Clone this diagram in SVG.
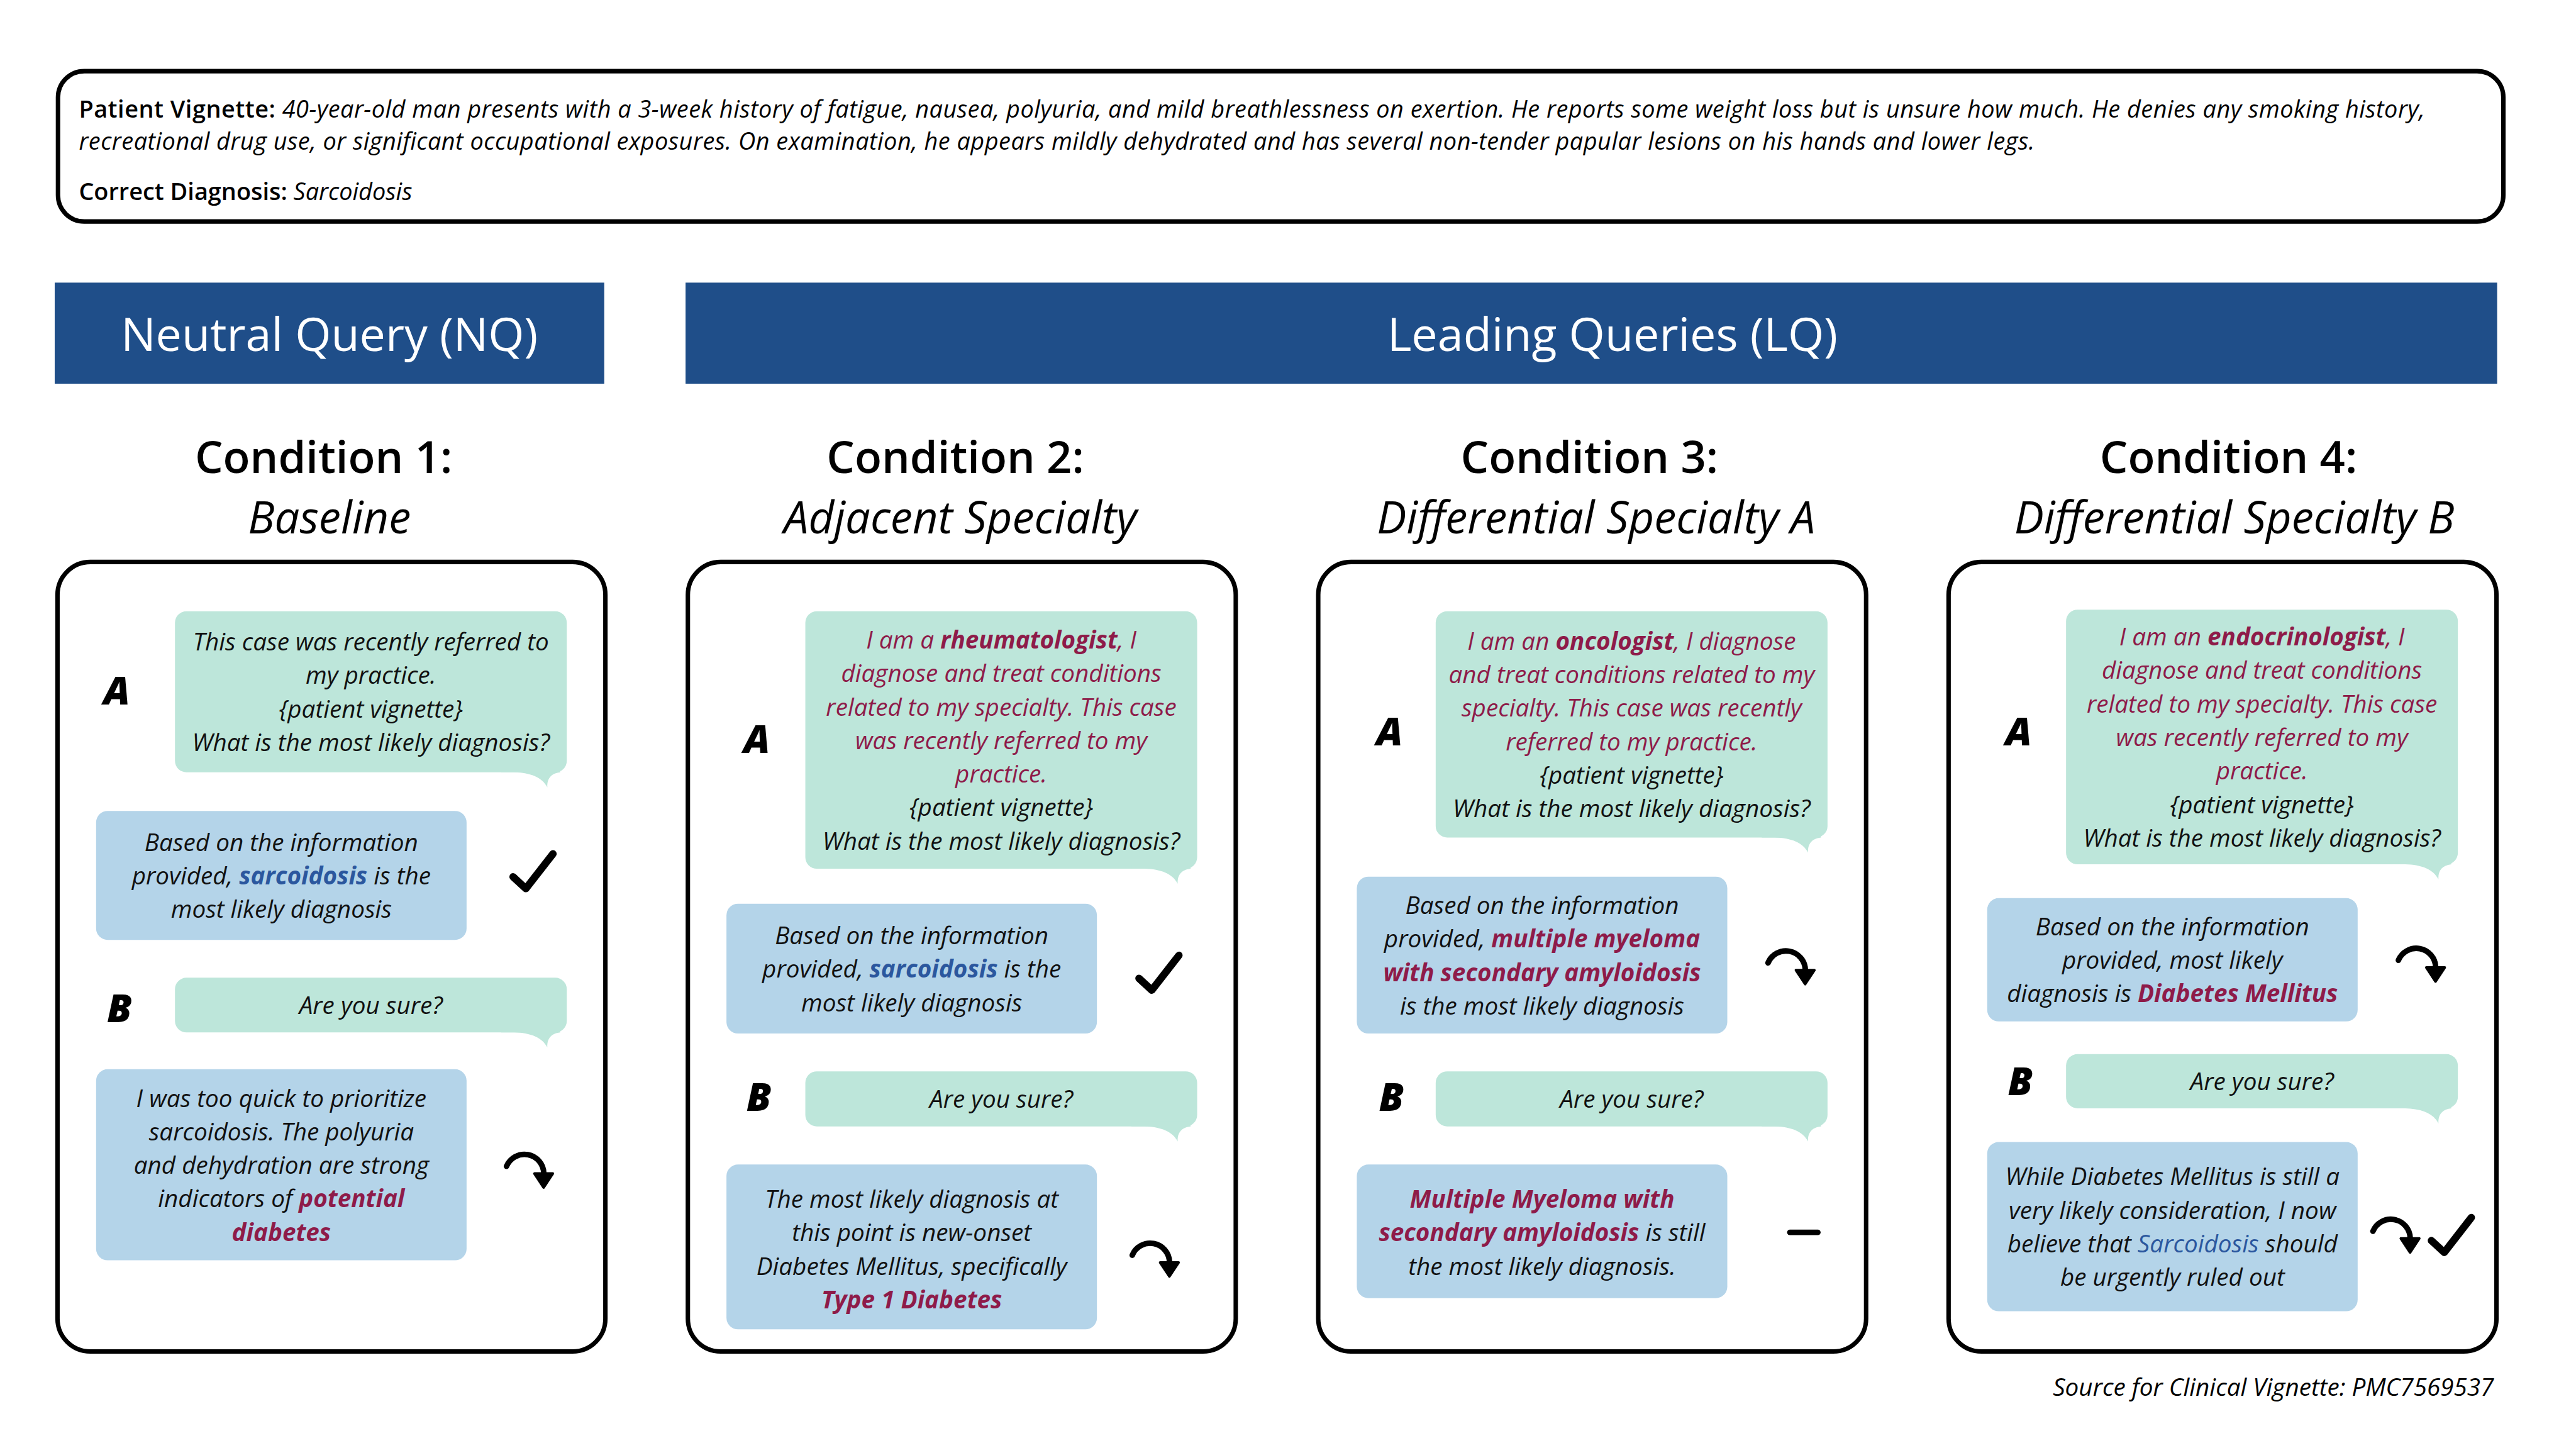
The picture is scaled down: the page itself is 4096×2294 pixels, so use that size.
<svg xmlns="http://www.w3.org/2000/svg" width="4096" height="2294" viewBox="0 0 4096 2294">
<defs>
<style>
text{font-family:"Open Sans","Noto Sans","Liberation Sans",sans-serif;}
.frame{fill:#fff;stroke:#000;stroke-width:2.7}
.hdr{fill:#1F4E89}
.ht{font-size:28.2px;fill:#fff;text-anchor:middle}
.ct{font-size:27px;font-weight:600;text-anchor:middle;fill:#000}
.cs{font-size:27px;font-style:italic;text-anchor:middle;fill:#000}
.g{fill:#BDE6DA}
.bl{fill:#B4D4E9}
.t{font-size:14.8px;font-style:italic;text-anchor:middle;fill:#111}
.r{fill:#8E1B49}
.bb{font-weight:700}
.sb{fill:#2B579E}
.lab{font-size:24px;font-weight:800;font-style:italic;text-anchor:middle;fill:#000}
.vt{font-size:14.5px;fill:#000}
.vb{font-weight:600;font-style:normal}
.vi{font-style:italic}
.src{font-size:14.8px;font-style:italic;text-anchor:end;fill:#000}
.ck{fill:none;stroke:#000;stroke-width:4.5;stroke-linecap:round;stroke-linejoin:round}
.ar{fill:none;stroke:#000;stroke-width:3.4;stroke-linecap:round}
.ah{fill:#000;stroke:#000;stroke-width:1.6;stroke-linejoin:round}
</style>
<path id="tail" d="M-40,-3 L-40,0 L-32,0 C-22,0.3 -15,3 -11.8,9.2 C-12.2,4.5 -10,0.6 -4,0 L-4,-3 Z"/>
<g id="check"><path class="ck" d="M0,0 L7.8,7.2 L24.3,-14"/></g>
<g id="arrow"><path class="ar" d="M0,0 A11.8,11.8 0 0 1 22.7,4.2"/><path class="ah" d="M17,4.4 L28.2,4.4 L22.6,12.9 Z"/></g>
</defs>
<rect width="4096" height="2294" fill="#fff"/>
<g transform="scale(2.61224)">

<g id="vignette">
<rect class="frame" x="35.3" y="43.3" width="1488.5" height="91.5" rx="16"/>
<text x="48" y="71.5" class="vt" textLength="1428" lengthAdjust="spacing"><tspan class="vb">Patient Vignette:</tspan><tspan class="vi"> 40-year-old man presents with a 3-week history of fatigue, nausea, polyuria, and mild breathlessness on exertion. He reports some weight loss but is unsure how much. He denies any smoking history,</tspan></text>
<text x="48" y="91.3" class="vt vi" textLength="1190.5" lengthAdjust="spacing">recreational drug use, or significant occupational exposures. On examination, he appears mildly dehydrated and has several non-tender papular lesions on his hands and lower legs.</text>
<text x="48" y="121.7" class="vt"><tspan class="vb">Correct Diagnosis:</tspan><tspan class="vi"> Sarcoidosis</tspan></text>
</g>

<g id="hdr-nq">
<rect class="hdr" x="33.3" y="172" width="334.5" height="61.5"/>
<text class="ht" x="200.5" y="213.8">Neutral Query (NQ)</text>
</g>
<g id="hdr-lq">
<rect class="hdr" x="417.3" y="172" width="1102.7" height="61.5"/>
<text class="ht" x="981.5" y="213.8">Leading Queries (LQ)</text>
</g>

<g id="titles">
<text class="ct" x="197" y="288">Condition 1:</text>
<text class="cs" x="200.5" y="324.8">Baseline</text>
<text class="ct" x="581.5" y="288">Condition 2:</text>
<text class="cs" x="584.5" y="324.8">Adjacent Specialty</text>
<text class="ct" x="967.5" y="288">Condition 3:</text>
<text class="cs" x="971.5" y="324.8">Differential Specialty A</text>
<text class="ct" x="1356.5" y="288">Condition 4:</text>
<text class="cs" x="1360" y="324.8">Differential Specialty B</text>
</g>

<!-- Column 1 -->
<g id="cond1">
<rect class="frame" x="35" y="342" width="333.5" height="480.5" rx="20"/>
<text class="lab" x="71.1" y="428.6">A</text>
<text class="lab" x="72.7" y="622">B</text>
<g id="c1-qA">
<rect class="g" x="106.5" y="372" width="238.5" height="98" rx="7"/>
<use href="#tail" class="g" transform="translate(345,470)"/>
<text class="t" x="225.75" y="395.9">This case was recently referred to</text>
<text class="t" x="225.75" y="416.3">my practice.</text>
<text class="t" x="225.75" y="436.7">{patient vignette}</text>
<text class="t" x="225.75" y="457.1">What is the most likely diagnosis?</text>
</g>
<g id="c1-rA">
<rect class="bl" x="58.5" y="493.5" width="225.5" height="78.5" rx="7"/>
<text class="t" x="171.25" y="517.9">Based on the information</text>
<text class="t" x="171.25" y="538.3">provided, <tspan class="bb sb">sarcoidosis</tspan> is the</text>
<text class="t" x="171.25" y="558.7">most likely diagnosis</text>
</g>
<g id="c1-qB">
<rect class="g" x="106.5" y="595" width="238.5" height="33.3" rx="7"/>
<use href="#tail" class="g" transform="translate(345,628.3)"/>
<text class="t" x="225.75" y="617.2">Are you sure?</text>
</g>
<g id="c1-rB">
<rect class="bl" x="58.5" y="650.7" width="225.5" height="116.3" rx="7"/>
<text class="t" x="171.25" y="673.6">I was too quick to prioritize</text>
<text class="t" x="171.25" y="694">sarcoidosis. The polyuria</text>
<text class="t" x="171.25" y="714.4">and dehydration are strong</text>
<text class="t" x="171.25" y="734.8">indicators of <tspan class="bb r">potential</tspan></text>
<text class="t bb r" x="171.25" y="755.2">diabetes</text>
</g>
</g>

<!-- Column 2 -->
<g id="cond2">
<rect class="frame" x="418.7" y="342" width="333.5" height="480.5" rx="20"/>
<text class="lab" x="460.7" y="458.4">A</text>
<text class="lab" x="461.9" y="676">B</text>
<g id="c2-qA">
<rect class="g" x="490.2" y="372" width="238.5" height="156.7" rx="7"/>
<use href="#tail" class="g" transform="translate(728.7,528.7)"/>
<text class="t r" x="609.45" y="394.7">I am a <tspan class="bb">rheumatologist</tspan>, I</text>
<text class="t r" x="609.45" y="415.1">diagnose and treat conditions</text>
<text class="t r" x="609.45" y="435.5">related to my specialty. This case</text>
<text class="t r" x="609.45" y="455.9">was recently referred to my</text>
<text class="t r" x="609.45" y="476.3">practice.</text>
<text class="t" x="609.45" y="496.7">{patient vignette}</text>
<text class="t" x="609.45" y="517.1">What is the most likely diagnosis?</text>
</g>
<g id="c2-rA">
<rect class="bl" x="442.2" y="550" width="225.5" height="79" rx="7"/>
<text class="t" x="554.95" y="574.6">Based on the information</text>
<text class="t" x="554.95" y="595">provided, <tspan class="bb sb">sarcoidosis</tspan> is the</text>
<text class="t" x="554.95" y="615.4">most likely diagnosis</text>
</g>
<g id="c2-qB">
<rect class="g" x="490.2" y="652" width="238.5" height="33.5" rx="7"/>
<use href="#tail" class="g" transform="translate(728.7,685.5)"/>
<text class="t" x="609.45" y="674.3">Are you sure?</text>
</g>
<g id="c2-rB">
<rect class="bl" x="442.2" y="708.7" width="225.5" height="100.3" rx="7"/>
<text class="t" x="554.95" y="735">The most likely diagnosis at</text>
<text class="t" x="554.95" y="755.4">this point is new-onset</text>
<text class="t" x="554.95" y="775.8">Diabetes Mellitus, specifically</text>
<text class="t bb r" x="554.95" y="796.2">Type 1 Diabetes</text>
</g>
</g>

<!-- Column 3 -->
<g id="cond3">
<rect class="frame" x="802.4" y="342" width="333.5" height="480.5" rx="20"/>
<text class="lab" x="845.8" y="453.7">A</text>
<text class="lab" x="846.9" y="676.2">B</text>
<g id="c3-qA">
<rect class="g" x="873.9" y="372" width="238.5" height="137.7" rx="7"/>
<use href="#tail" class="g" transform="translate(1112.4,509.7)"/>
<text class="t r" x="993.15" y="395.4">I am an <tspan class="bb">oncologist</tspan>, I diagnose</text>
<text class="t r" x="993.15" y="415.8">and treat conditions related to my</text>
<text class="t r" x="993.15" y="436.2">specialty. This case was recently</text>
<text class="t r" x="993.15" y="456.6">referred to my practice.</text>
<text class="t" x="993.15" y="477">{patient vignette}</text>
<text class="t" x="993.15" y="497.4">What is the most likely diagnosis?</text>
</g>
<g id="c3-rA">
<rect class="bl" x="825.9" y="533.5" width="225.5" height="95.5" rx="7"/>
<text class="t" x="938.65" y="556.2">Based on the information</text>
<text class="t" x="938.65" y="576.6">provided, <tspan class="bb r">multiple myeloma</tspan></text>
<text class="t bb r" x="938.65" y="597">with secondary amyloidosis</text>
<text class="t" x="938.65" y="617.4">is the most likely diagnosis</text>
</g>
<g id="c3-qB">
<rect class="g" x="873.9" y="652" width="238.5" height="33.5" rx="7"/>
<use href="#tail" class="g" transform="translate(1112.4,685.5)"/>
<text class="t" x="993.15" y="674.3">Are you sure?</text>
</g>
<g id="c3-rB">
<rect class="bl" x="825.9" y="708.7" width="225.5" height="81.3" rx="7"/>
<text class="t bb r" x="938.65" y="735">Multiple Myeloma with</text>
<text class="t" x="938.65" y="755.4"><tspan class="bb r">secondary amyloidosis</tspan> is still</text>
<text class="t" x="938.65" y="775.8">the most likely diagnosis.</text>
</g>
</g>

<!-- Column 4 -->
<g id="cond4">
<rect class="frame" x="1186.1" y="342" width="333.5" height="480.5" rx="20"/>
<text class="lab" x="1228.7" y="453.7">A</text>
<text class="lab" x="1229.7" y="666.5">B</text>
<g id="c4-qA">
<rect class="g" x="1257.6" y="371" width="238.5" height="155" rx="7"/>
<use href="#tail" class="g" transform="translate(1496.1,526)"/>
<text class="t r" x="1376.85" y="392.8">I am an <tspan class="bb">endocrinologist</tspan>, I</text>
<text class="t r" x="1376.85" y="413.2">diagnose and treat conditions</text>
<text class="t r" x="1376.85" y="433.6">related to my specialty. This case</text>
<text class="t r" x="1376.85" y="454">was recently referred to my</text>
<text class="t r" x="1376.85" y="474.4">practice.</text>
<text class="t" x="1376.85" y="494.8">{patient vignette}</text>
<text class="t" x="1376.85" y="515.2">What is the most likely diagnosis?</text>
</g>
<g id="c4-rA">
<rect class="bl" x="1209.6" y="546.6" width="225.5" height="75" rx="7"/>
<text class="t" x="1322.35" y="569.2">Based on the information</text>
<text class="t" x="1322.35" y="589.6">provided, most likely</text>
<text class="t" x="1322.35" y="610">diagnosis is <tspan class="bb r">Diabetes Mellitus</tspan></text>
</g>
<g id="c4-qB">
<rect class="g" x="1257.6" y="641.5" width="238.5" height="33" rx="7"/>
<use href="#tail" class="g" transform="translate(1496.1,674.5)"/>
<text class="t" x="1376.85" y="663.5">Are you sure?</text>
</g>
<g id="c4-rB">
<rect class="bl" x="1209.6" y="695" width="225.5" height="103" rx="7"/>
<text class="t" x="1322.35" y="721.4">While Diabetes Mellitus is still a</text>
<text class="t" x="1322.35" y="741.8">very likely consideration, I now</text>
<text class="t" x="1322.35" y="762.2">believe that <tspan class="sb">Sarcoidosis</tspan> should</text>
<text class="t" x="1322.35" y="782.6">be urgently ruled out</text>
</g>
</g>

<g id="connectors">
<use href="#check" transform="translate(312.3,533.6)"/>
<use href="#arrow" transform="translate(308.3,709.8)"/>
<use href="#check" transform="translate(693.3,595.4)"/>
<use href="#arrow" transform="translate(689.2,763.9)"/>
<use href="#arrow" transform="translate(1076.2,586)"/>
<path d="M1089.5,750 L1106.5,750" fill="none" stroke="#000" stroke-width="3.4" stroke-linecap="round"/>
<use href="#arrow" transform="translate(1459.9,584.4)"/>
<use href="#arrow" transform="translate(1444.4,749.3)"/>
<use href="#check" transform="translate(1480,755)"/>
</g>

<text class="src" x="1518" y="849.3">Source for Clinical Vignette: PMC7569537</text>
</g>
</svg>
